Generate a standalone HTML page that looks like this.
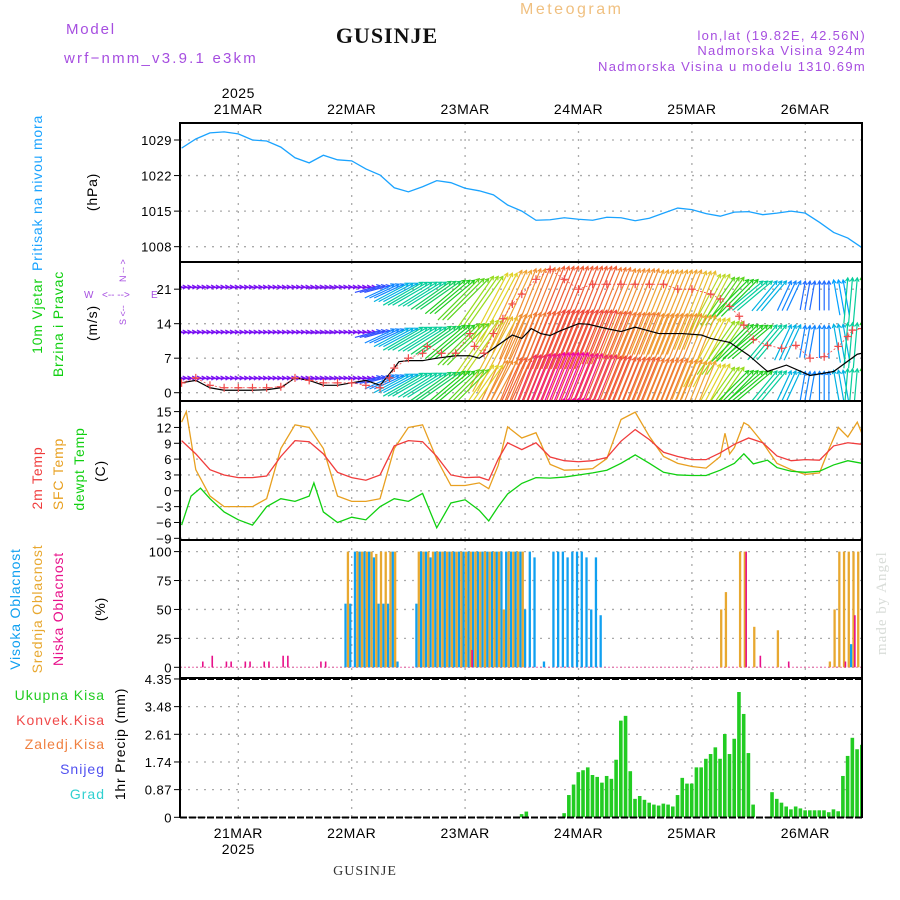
<!DOCTYPE html>
<html><head><meta charset="utf-8"><style>
html,body{margin:0;padding:0;background:#fff;}
svg{display:block;font-family:"Liberation Sans",sans-serif;}
</style></head><body>
<svg id="c" width="900" height="900" viewBox="0 0 900 900" xmlns="http://www.w3.org/2000/svg">
<defs>
<clipPath id="clipP"><rect x="180" y="123" width="682" height="139"/></clipPath>
<clipPath id="clipW"><rect x="180" y="262" width="682" height="138"/></clipPath>
<clipPath id="clipT"><rect x="180" y="401" width="682" height="139"/></clipPath>
<clipPath id="clipC"><rect x="180" y="540" width="682" height="139"/></clipPath>
<clipPath id="clipR"><rect x="180" y="679" width="682" height="139"/></clipPath>
</defs>
<g font-size="15" letter-spacing="1.8">
<text x="66" y="34" fill="#a64ee0">Model</text>
<text x="64" y="63" fill="#a64ee0" letter-spacing="2.2">wrf−nmm_v3.9.1  e3km</text>
<text x="520" y="14" fill="#f0c080" font-size="16" letter-spacing="2.5">Meteogram</text>
<text x="866" y="40" fill="#a64ee0" font-size="13" text-anchor="end" letter-spacing="1.3">lon,lat (19.82E, 42.56N)</text>
<text x="866" y="55" fill="#a64ee0" font-size="13" text-anchor="end" letter-spacing="1.3">Nadmorska Visina 924m</text>
<text x="866" y="71" fill="#a64ee0" font-size="13" text-anchor="end" letter-spacing="1.3">Nadmorska Visina u modelu 1310.69m</text>
</g>
<text x="387" y="43" font-family="Liberation Serif,serif" font-weight="bold" font-size="22" text-anchor="middle" letter-spacing="1" fill="#111">GUSINJE</text>
<text x="365" y="875" font-family="Liberation Serif,serif" font-size="14" text-anchor="middle" fill="#333" letter-spacing="1">GUSINJE</text>
<text transform="translate(886,655) rotate(-90)" font-family="Liberation Serif,serif" font-size="15" fill="#d8dcd8" letter-spacing="1">made by Angel</text>
<g id="g"></g>
</svg>
<script>
// ---------- DATA ----------
const dayLabels = ["21MAR","22MAR","23MAR","24MAR","25MAR","26MAR"];
const dayHours = [12,36,60,84,108,132];
const yearLabel = "2025";

const presTicks = [1029,1022,1015,1008];
const presHours = [0,3,6,9,12,15,18,21,24,27,30,33,36,39,42,45,48,51,54,57,60,63,66,69,72,75,78,81,84,87,90,93,96,99,102,105,108,111,114,117,120,123,126,129,132,135,138,141,144];
const presVals = [1027.4,1029.2,1030.4,1030.6,1030.2,1029.0,1028.8,1027.6,1025.5,1024.5,1026.0,1025.1,1024.9,1023.3,1022.1,1019.6,1018.8,1019.8,1021.0,1020.6,1019.5,1019.0,1018.2,1016.2,1015.0,1013.2,1013.3,1013.7,1013.4,1013.2,1013.8,1013.7,1013.1,1013.6,1014.6,1015.6,1015.3,1014.5,1014.0,1014.8,1014.9,1014.3,1014.6,1015.0,1014.6,1012.8,1010.8,1009.7,1007.8];

const windTicks = [21,14,7,0];
const windDir = [85,85,85,85,85,85,85,85,85,85,85,85,85,85,75,65,62,60,58,55,50,45,35,28,25,22,22,22,22,22,22,22,22,22,22,22,22,22,28,35,45,50,40,25,10,0,-10,5,0];
const windSpd1 = [2,2,2,2,2,2,2,2,2,2,2.5,2.5,2,2,4,5,6,7,7,7.5,8,9,10,12,14,15,16,17,17,17,17,16,15,15,14,14,14,13,11,9,8,7,6,5,4.5,4.5,5.5,7,8];
const windSpd2 = [2,2,2,2,2,2,2,2,2,2,2.5,2.5,2,2,4,5,6,7,7,7.5,8,9,11,13,15,16,17,18,18,18,18,17,16,16,15,15,15,14,12,10,8,8,7,6,5,5,6,7,8];
const windSpd3 = [2,2,2,2,2,2,2,2,2,2,2.5,2.5,2,2,4,5,6,7,7,7.5,8,9,12,15,17,19,20,21,21,20,19,18,17,17,16,16,15,14,12,10,8,8,7,6,5,5,6,7,8];
const windSpd4 = [1,1,1,1,1,1,1,1,1,1,1,1,1,1,2,3,4,5,6,7,8,9,12,15,17,19,20,21,21,20,19,18,17,17,16,16,15,14,12,10,8,7,6,5,4,4,5,6,7];
const speedHours = [0,3,6,9,12,15,18,21,24,27,30,33,36,39,42,45,46,48,51,54,58,61,63,66,70,72,74,76,78,80,84,86,90,93,96,101,106,110,112,116,120,124,128,133,138,143,144];
const speedVals = [2,2.5,1,0.5,0.5,0.5,0.6,1,3,2.5,1.5,1.5,2,2.5,1.5,5,6.3,6.5,6.5,7,7.5,7.5,7,9,11.7,11,13,12,11.6,12.5,14,13.9,13,12.4,13.3,12,12,11.7,11,10.2,7.6,4.3,5.6,3.5,4.3,7.8,8];
const gustHours = [0,3,6,9,12,15,18,21,24,27,30,33,36,39,42,44,45,48,51,52,55,58,61,62,64,66,68,70,72,75,78,81,84,87,90,93,96,99,102,105,108,112,114,116,118,119,121,124,127,130,133,136,139,141,142,144];
const gustVals = [2,3,1.5,1,1,1,1,1.2,3,2.5,2,2,2,1.5,1,3,5,7,8,9.4,8,8,12,9.4,8,12,15,18,20,23,25,23,21,22,22,22,22,22,22,21,21,20,19,17.5,15.5,13.7,10.8,9.6,9,9.6,7,7.3,9.4,11.4,12.7,13];

const tempTicks = [15,12,9,6,3,0,-3,-6,-9];
const t2Hours = [0,3,6,9,12,15,18,21,24,27,30,33,36,39,42,45,48,51,54,57,60,63,65,67,69,72,75,78,81,84,87,90,93,96,99,102,105,108,111,114,117,120,123,126,129,132,135,138,141,144];
const t2Vals = [9.5,7,4,3,2.5,2.5,2.8,6.5,9.5,9.3,7,3.5,2.5,2,3,8.5,9.5,9.3,6.5,3,2.5,2.6,2,6,9.1,7.8,9.1,6.4,5.7,5.5,5.7,6.3,9.4,11.6,9.7,7.3,6.5,5.9,5.9,7.2,8.8,10,9.1,6.6,5.7,5.9,5.8,8.5,9.1,8.8];
const sfcHours = [0,1,3,6,9,12,15,18,21,24,27,30,33,36,39,42,45,48,51,54,57,60,63,65,67,69,72,75,78,81,84,87,90,93,96,99,102,105,108,111,114,115,116,117,119,120,123,126,129,132,135,137,139,141,143,144];
const sfcVals = [13,15,4,-1,-3,-3,-3,-1.5,8,12.5,12,8,-1,-2,-2,-1.5,8,12,12.5,6,1,1,1.5,0.4,4.8,12.1,10,11,5,3.9,4,4.2,6.1,13.5,14.9,10.3,6.5,5.2,4.6,4.3,6.5,10.9,7,8.2,12.9,12.4,9.1,5.2,4,3.1,3.4,7.9,12,10.2,13,10.8];
const dewHours = [0,2,4,6,9,12,15,18,21,24,27,28,30,33,36,39,42,45,48,51,54,57,60,63,65,67,69,72,75,78,81,84,87,90,93,96,99,102,105,108,111,114,117,119,121,124,126,129,132,135,138,141,144];
const dewVals = [-6.5,-1,0.5,-1.5,-4,-5.5,-6.5,-3,-1.5,-2,-1,1.5,-4,-6,-5,-5.5,-3,-1.5,-2,-0.5,-7,-2.3,-1.7,-3.7,-5.7,-3,-0.6,1.4,2.5,2.4,2.6,3,3.4,3.9,5.2,6.8,5.2,3.5,3,2.9,2.9,3.9,5.2,7,5.1,5.8,4.4,3.7,3.5,3.7,4.9,5.7,5.2];

const cloudTicks = [100,75,50,25,0];
const cloudHigh = [0,0,0,0,0,0,0,0,0,0,0,0,0,0,0,0,0,0,0,0,0,0,0,0,0,0,0,0,0,0,0,0,0,0,0,
 55,55,100,100,100,100,95,55,55,55,100,5,
 0,0,0,
 55,100,100,95,100,100,100,100,100,100,100,100,100,100,100,100,100,100,100,100,100,100,100,
 50,100,95,0,5,0,100,100,100,95,100,100,100,95,50,95,45,
 0,0,0,0,0,0,0,0,0,0,0,0,0,0,0,0,0,0,0,0,0,0,0,0,0,0,0,0,0,0,0,0,0,0,0,0,0,0,0,0,0,0,0,0,0,0,0,0,0,0,0,0,
 20,0,0];
const cloudMid = [0,0,0,0,0,0,0,0,0,0,0,0,0,0,0,0,0,0,0,0,0,0,0,0,0,0,0,0,0,0,0,0,0,0,0,
 100,0,100,100,100,100,98,100,100,100,100,0,
 0,0,0,
 100,100,100,100,100,100,100,100,100,100,100,100,100,100,100,100,100,100,50,100,100,100,100,
 0,0,0,0,0,0,0,0,0,0,0,0,0,0,0,0,0,0,0,0,0,0,0,0,0,0,0,0,0,0,0,0,0,0,0,0,0,0,0,0,0,
 50,65,0,0,100,100,0,35,0,0,0,0,32,0,0,0,0,0,0,0,0,0,0,5,50,100,100,100,100,100,100];
const cloudLowHours = [4,6,9,10,13,14,17,18,21,22,29,30,61,119,122,128,140,142];
const cloudLowVals = [5,10,5,5,5,5,5,5,10,10,5,5,15,100,10,5,5,45];

const precipTicks = [4.35,3.48,2.61,1.74,0.87,0];
const precipTickLabels = ["4.35","3.48","2.61","1.74","0.87","0"];
const precipStartHour = 72;
const precipVals = [0.1,0.18,0,0,0,0,0,0,0,
 0.13,0.7,1.03,1.42,1.48,1.57,1.33,1.27,1.09,1.3,1.21,1.81,3.04,3.19,1.45,0.58,0.67,0.55,0.46,0.4,0.37,0.43,0.4,0.34,0.7,1.24,1.06,1.06,1.57,1.57,1.84,1.99,2.2,1.84,2.62,1.99,2.47,3.94,3.25,2.02,0.4,
 0,0,0,
 0.79,0.58,0.46,0.34,0.25,0.34,0.28,0.22,0.22,0.22,0.22,0.22,0.16,0.25,0.19,1.3,1.93,2.5,2.14,2.28];

// ---------- AXES ----------
const L = 180, R = 862;
function X(h){ return 181.6 + 4.725*h; }
function yP(p){ return 140 + (1029-p)*5.08; }
function yW(v){ return 392.7 - v*4.93; }
function yT(t){ return 490.8 - t*5.28; }
function yC(c){ return 667.3 - c*1.157; }
function yR(p){ return 817.3 - p*31.8; }

const NS = "http://www.w3.org/2000/svg";
const G = document.getElementById('g');
function el(tag, attrs, parent){
  const e = document.createElementNS(NS, tag);
  for (const k in attrs) e.setAttribute(k, attrs[k]);
  (parent||G).appendChild(e);
  return e;
}
function txt(x,y,s,attrs,parent){
  const t = el('text', Object.assign({x:x,y:y}, attrs||{}), parent);
  t.textContent = s; return t;
}

const panels = [[123,262,'clipP'],[262,401,'clipW'],[401,540,'clipT'],[540,679,'clipC'],[679,817.3,'clipR']];

// grid
const grid = el('g', {stroke:'#aaa','stroke-width':1.3,'stroke-dasharray':'2,6'});


for (const [t,b] of panels){
  for (const h of dayHours){ el('line',{x1:X(h),x2:X(h),y1:t,y2:b},grid); }
}
function hgrid(ticks, fn){
  for (const v of ticks){ const y=fn(v); el('line',{x1:L,x2:R,y1:y,y2:y},grid); }
}
hgrid(presTicks,yP); hgrid(windTicks,yW); hgrid(tempTicks,yT); hgrid(cloudTicks,yC); hgrid(precipTicks.slice(1),yR);

// tick labels
function ticks(vals, labels, fn, name){
  const g = el('g',{'font-size':13,'text-anchor':'end',fill:'#000','letter-spacing':'0.5'});
  
  
  vals.forEach((v,i)=>{
    txt(172, fn(v)+5, labels[i], {}, g);
    el('line',{x1:174,x2:180,y1:fn(v),y2:fn(v),stroke:'#000','stroke-width':1},g);
  });
}
ticks(presTicks, presTicks.map(String), yP, 'pressure-y-ticks');
ticks(windTicks, windTicks.map(String), yW, 'wind-y-ticks');
ticks(tempTicks, tempTicks.map(v=>v<0?'−'+(-v):String(v)), yT, 'temp-y-ticks');
ticks(cloudTicks, cloudTicks.map(String), yC, 'cloud-y-ticks');
ticks(precipTicks, precipTickLabels, yR, 'precip-y-ticks');

// x labels
const xl = el('g',{'font-size':14,'text-anchor':'middle',fill:'#000','letter-spacing':'0.5'});


dayLabels.forEach((d,i)=>{
  txt(X(dayHours[i]), 114, d, {}, xl);
  txt(X(dayHours[i]), 838, d, {}, xl);
});
txt(X(dayHours[0]), 98, yearLabel, {}, xl);
txt(X(dayHours[0]), 854, yearLabel, {}, xl);

// ---------- PRESSURE ----------
const pp = el('polyline',{points:presHours.map((h,i)=>X(h)+','+yP(presVals[i])).join(' '),fill:'none',stroke:'#1aa3ff','stroke-width':1.3,'clip-path':'url(#clipP)'});



// ---------- WIND ----------
const stops = [[0,[128,0,255]],[2.5,[120,20,240]],[4,[50,80,255]],[5.5,[0,160,255]],[6.8,[0,205,180]],[8,[30,205,30]],[10,[150,220,30]],[12,[225,210,40]],[14,[240,165,50]],[16,[240,120,50]],[18,[240,70,60]],[21,[240,0,170]]];
function wcol(s){
  if (s<=stops[0][0]) return 'rgb('+stops[0][1]+')';
  for (let i=1;i<stops.length;i++){
    if (s<=stops[i][0]){
      const a=stops[i-1], b=stops[i], f=(s-a[0])/(b[0]-a[0]);
      return 'rgb('+a[1].map((c,k)=>Math.round(c+(b[1][k]-c)*f)).join(',')+')';
    }
  }
  return 'rgb('+stops[stops.length-1][1]+')';
}
const windRows = [[windSpd1,287],[windSpd2,332],[windSpd3,378],[windSpd4,424]];
const wg = el('g',{'clip-path':'url(#clipW)','stroke-width':1.2,fill:'none'});


windRows.forEach(([sp,y0],r)=>{
  for (let h=0; h<=144; h++){
    const i = Math.floor(h/3);
    const s = sp[i], th = windDir[i]*Math.PI/180;
    const len = s*6.5;
    const dx = len*Math.sin(th), dy = -len*Math.cos(th);
    const hx = X(h), hy = y0 + 0.2*dy;
    const tx = hx-dx, ty = hy-dy;
    const c = wcol(s);
    const a = el('path',{d:'M'+tx.toFixed(1)+','+ty.toFixed(1)+'L'+hx.toFixed(1)+','+hy.toFixed(1),stroke:c},wg);
    
    
    const ux = dx/(len||1), uy = dy/(len||1);
    const hl = 4;
    const p1x = hx - hl*(ux*0.87 - uy*0.5), p1y = hy - hl*(uy*0.87 + ux*0.5);
    const p2x = hx - hl*(ux*0.87 + uy*0.5), p2y = hy - hl*(uy*0.87 - ux*0.5);
    el('path',{d:'M'+p1x.toFixed(1)+','+p1y.toFixed(1)+'L'+hx.toFixed(1)+','+hy.toFixed(1)+'L'+p2x.toFixed(1)+','+p2y.toFixed(1),stroke:c},wg);
  }
});
const sl = el('polyline',{points:speedHours.map((h,i)=>X(h)+','+yW(speedVals[i])).join(' '),fill:'none',stroke:'#000','stroke-width':1.2,'clip-path':'url(#clipW)'});


const gg = el('g',{stroke:'#f04a4a','stroke-width':1.2,'clip-path':'url(#clipW)',fill:'none'});


el('polyline',{points:gustHours.map((h,i)=>X(h)+','+yW(gustVals[i])).join(' '),'stroke-dasharray':'2,2','stroke-width':0.8},gg);
gustHours.forEach((h,i)=>{
  const x=X(h), y=yW(gustVals[i]);
  const m = el('path',{d:`M${x-4},${y}L${x+4},${y}M${x},${y-4}L${x},${y+4}`},gg);
  
  
});

// ---------- TEMPERATURE ----------
[[sfcHours,sfcVals,'#e8a020','sfc-temp-line'],[t2Hours,t2Vals,'#f03c3c','2m-temp-line'],[dewHours,dewVals,'#10d010','dewpoint-line']].forEach(([hs,vs,c,n])=>{
  const p = el('polyline',{points:hs.map((h,i)=>X(h)+','+yT(vs[i])).join(' '),fill:'none',stroke:c,'stroke-width':1.3,'clip-path':'url(#clipT)'});
  
  
});

// ---------- CLOUDS ----------
const cg = el('g',{'clip-path':'url(#clipC)'});


el('line',{x1:L,x2:R,y1:yC(0),y2:yC(0),stroke:'#f06fb0','stroke-width':1,'stroke-dasharray':'2,2'},cg);
cloudHigh.forEach((v,h)=>{
  if (v<=0) return;
  const b = el('rect',{x:X(h)-2.6,y:yC(v),width:2.3,height:yC(0)-yC(v),fill:'#10a0f0'},cg);
  
  
});
cloudMid.forEach((v,h)=>{
  if (v<=0) return;
  const b = el('rect',{x:X(h)-0.2,y:yC(v),width:2.3,height:yC(0)-yC(v),fill:'#e8a830'},cg);
  
  
});
cloudLowHours.forEach((h,i)=>{
  const v = cloudLowVals[i];
  const b = el('rect',{x:X(h)+1.5,y:yC(v),width:1.6,height:yC(0)-yC(v),fill:'#e8108a'},cg);
  
  
});

// ---------- PRECIP ----------
const rg = el('g',{'clip-path':'url(#clipR)'});


precipVals.forEach((v,i)=>{
  if (v<=0) return;
  const h = precipStartHour + i;
  const b = el('rect',{x:X(h)-2,y:yR(v),width:3.6,height:yR(0)-yR(v),fill:'#22cc22'},rg);
  
  
});

// ---------- FRAMES ----------
const fr = el('g',{stroke:'#000','stroke-width':2,fill:'none'});


el('rect',{x:L,y:123,width:R-L,height:678-123},fr);
el('line',{x1:L,x2:R,y1:262,y2:262},fr);
el('line',{x1:L,x2:R,y1:401,y2:401},fr);
el('line',{x1:L,x2:R,y1:540,y2:540},fr);
el('line',{x1:L,x2:L,y1:678,y2:818},fr);
el('line',{x1:R,x2:R,y1:678,y2:818},fr);
el('line',{x1:L,x2:R,y1:679,y2:679,'stroke-dasharray':'7,2'},fr);
el('line',{x1:L,x2:R,y1:817.5,y2:817.5,'stroke-dasharray':'7,2'},fr);

// ---------- LEFT LABELS ----------
function vlab(x,yc,s,c,name,fs){
  const t = txt(0,0,s,{transform:`translate(${x},${yc}) rotate(-90)`,'text-anchor':'middle','font-size':fs||14,fill:c,'letter-spacing':'0.8'});
  
  
}
vlab(42,193,'Pritisak na nivou mora','#1aa3ff','pressure-title');
vlab(97,192,'(hPa)','#000','pressure-unit');
vlab(42,316,'10m Vjetar','#10d010','wind-title');
vlab(63,324,'Brzina i Pravac','#10d010','wind-subtitle');
vlab(97,323,'(m/s)','#000','wind-unit');
vlab(42,478,'2m Temp','#f03c3c','temp2m-title');
vlab(63,474,'SFC Temp','#e8a020','sfc-temp-title');
vlab(84,469,'dewpt Temp','#10d010','dewpoint-title');
vlab(105,471,'(C)','#000','temp-unit');
vlab(20,609,'Visoka Oblacnost','#10a0f0','high-cloud-title');
vlab(42,609,'Srednja Oblacnost','#e8a830','mid-cloud-title');
vlab(63,609,'Niska Oblacnost','#e8108a','low-cloud-title');
vlab(105,609,'(%)','#000','cloud-unit');
vlab(125,744,'1hr Precip (mm)','#000','precip-unit');
const cmp = el('g',{fill:'#a64ee0','font-size':10});


txt(84,298,'W',{},cmp); txt(102,298,'<-- -->',{},cmp); txt(151,298,'E',{},cmp);
txt(0,0,'N  -- >',{transform:'translate(126,282) rotate(-90)','font-size':9},cmp);
txt(0,0,'S <--',{transform:'translate(126,325) rotate(-90)','font-size':9},cmp);
const pl = [['Ukupna  Kisa','#22cc22',700],['Konvek.Kisa','#f04a4a',725],['Zaledj.Kisa','#f08040',749],['Snijeg','#5050f0',774],['Grad','#30d0d0',799]];
pl.forEach(([s,c,y])=>{
  const t = txt(105,y,s,{'text-anchor':'end','font-size':14,fill:c,'letter-spacing':'1'});
  
  
});
</script>
</body></html>
